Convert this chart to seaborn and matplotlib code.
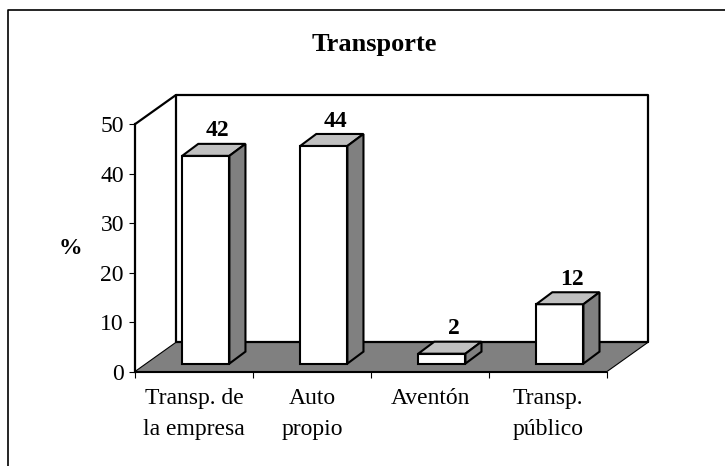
import matplotlib
matplotlib.use('Agg')
import matplotlib.pyplot as plt
import seaborn as sns
import numpy as np
import pandas as pd
from matplotlib.patches import Polygon

### DATA ###
categories = ['Transp. de\nla empresa', 'Auto\npropio', 'Aventón', 'Transp.\npúblico']
percent = [42, 44, 2, 12]
y_ticks = [0, 10, 20, 30, 40, 50]

# fake 3D geometry (in data units)
floor_dx, floor_dy = 0.347, 5.9   # depth of floor / back wall
bar_sx, bar_sy = 0.1, 1.6          # bar front face offset into the floor
bar_dx, bar_dy = 0.136, 2.42       # depth of the bars

sns.set_theme(style='white')
plt.rcParams['font.family'] = ['Liberation Serif', 'DejaVu Serif']
plt.rcParams['text.color'] = 'black'
plt.rcParams['axes.labelcolor'] = 'black'
plt.rcParams['xtick.color'] = 'black'
plt.rcParams['ytick.color'] = 'black'

fig = plt.figure(figsize=(7.25, 4.66), dpi=100)
ax = fig.add_axes([135/725, 94.5/466, 513/725, 276.5/466])

df = pd.DataFrame({'cat': categories, 'pct': percent})
sns.barplot(data=df, x='cat', y='pct', width=0.4, color='white', saturation=1,
            edgecolor='black', linewidth=1.5, ax=ax, zorder=3)

n = len(categories)
x_lo, x_hi = -0.5, n - 0.5
ax.set_xlim(x_lo, x_hi + floor_dx)
ax.set_ylim(0, y_ticks[-1] + floor_dy)

# floor + walls
bars = list(ax.patches)
floor = Polygon([(x_lo, 0), (x_hi, 0), (x_hi + floor_dx, floor_dy), (x_lo + floor_dx, floor_dy)],
                closed=True, fc='#808080', ec='black', lw=0.8, zorder=1, clip_on=False)
ax.add_patch(floor)
top_y = y_ticks[-1] + floor_dy
ax.plot([x_lo + floor_dx, x_lo + floor_dx, x_hi + floor_dx, x_hi + floor_dx],
        [floor_dy, top_y, top_y, floor_dy], color='black', lw=1.6, clip_on=False, zorder=2)
ax.plot([x_lo + floor_dx, x_hi + floor_dx], [floor_dy, floor_dy], color='black', lw=1.6,
        clip_on=False, zorder=2)
ax.plot([x_lo, x_lo + floor_dx], [y_ticks[-1], top_y], color='black', lw=1.6, clip_on=False, zorder=2)

# bars: move front faces, add top and side faces
for p, v in zip(bars, percent):
    p.set_x(p.get_x() + bar_sx)
    p.set_y(p.get_y() + bar_sy)
    x0, y0, w, h = p.get_x(), p.get_y(), p.get_width(), p.get_height()
    top = Polygon([(x0, y0 + h), (x0 + w, y0 + h), (x0 + w + bar_dx, y0 + h + bar_dy),
                   (x0 + bar_dx, y0 + h + bar_dy)], closed=True, fc='#C0C0C0', ec='black',
                  lw=1.5, zorder=3)
    side = Polygon([(x0 + w, y0), (x0 + w + bar_dx, y0 + bar_dy), (x0 + w + bar_dx, y0 + h + bar_dy),
                    (x0 + w, y0 + h)], closed=True, fc='#808080', ec='black', lw=1.5, zorder=3)
    ax.add_patch(top)
    ax.add_patch(side)
    ax.text(x0 + w / 2 + 0.75 * bar_dx, y0 + h + bar_dy + 0.5, str(v), ha='center', va='bottom',
            fontsize=17, fontweight='bold', zorder=4)

# axes
for s in ['top', 'right']:
    ax.spines[s].set_visible(False)
ax.spines['left'].set_bounds(0, y_ticks[-1])
ax.spines['left'].set_linewidth(1.6)
ax.spines['left'].set_color('black')
ax.spines['bottom'].set_bounds(x_lo, x_hi)
ax.spines['bottom'].set_linewidth(0.8)
ax.spines['bottom'].set_color('black')

ax.set_yticks(y_ticks)
ax.set_yticklabels([str(t) for t in y_ticks], fontsize=17)
ax.tick_params(axis='y', left=True, length=4, width=0.8, color='black', pad=4, colors='black')

ax.set_xticks(np.arange(n + 1) - 0.5, [''] * (n + 1))
ax.set_xticks(np.arange(n), categories, minor=True)
ax.tick_params(axis='x', which='major', bottom=True, length=4, width=0.8, color='black')
ax.tick_params(axis='x', which='minor', bottom=True, length=0, pad=12, labelsize=17, colors='black')
for lbl in ax.get_xticklabels(minor=True):
    lbl.set_linespacing(1.6)
ax.set_xlabel('')

ax.set_ylabel('%', rotation=0, fontsize=17, fontweight='bold', ha='center', va='center')
ax.yaxis.set_label_coords((70 - 135) / 513, (371.5 - 249) / 276.5)

fig.text(374/725, 1 - 44/466, 'Transporte', ha='center', va='center', fontsize=19, fontweight='bold')

# outer chart frame
fig.add_artist(plt.Line2D([8/725, 8/725, 1], [0, 1 - 10/466, 1 - 10/466],
                          transform=fig.transFigure, color='black', lw=1.2))

fig.savefig('out.png', dpi=100)
